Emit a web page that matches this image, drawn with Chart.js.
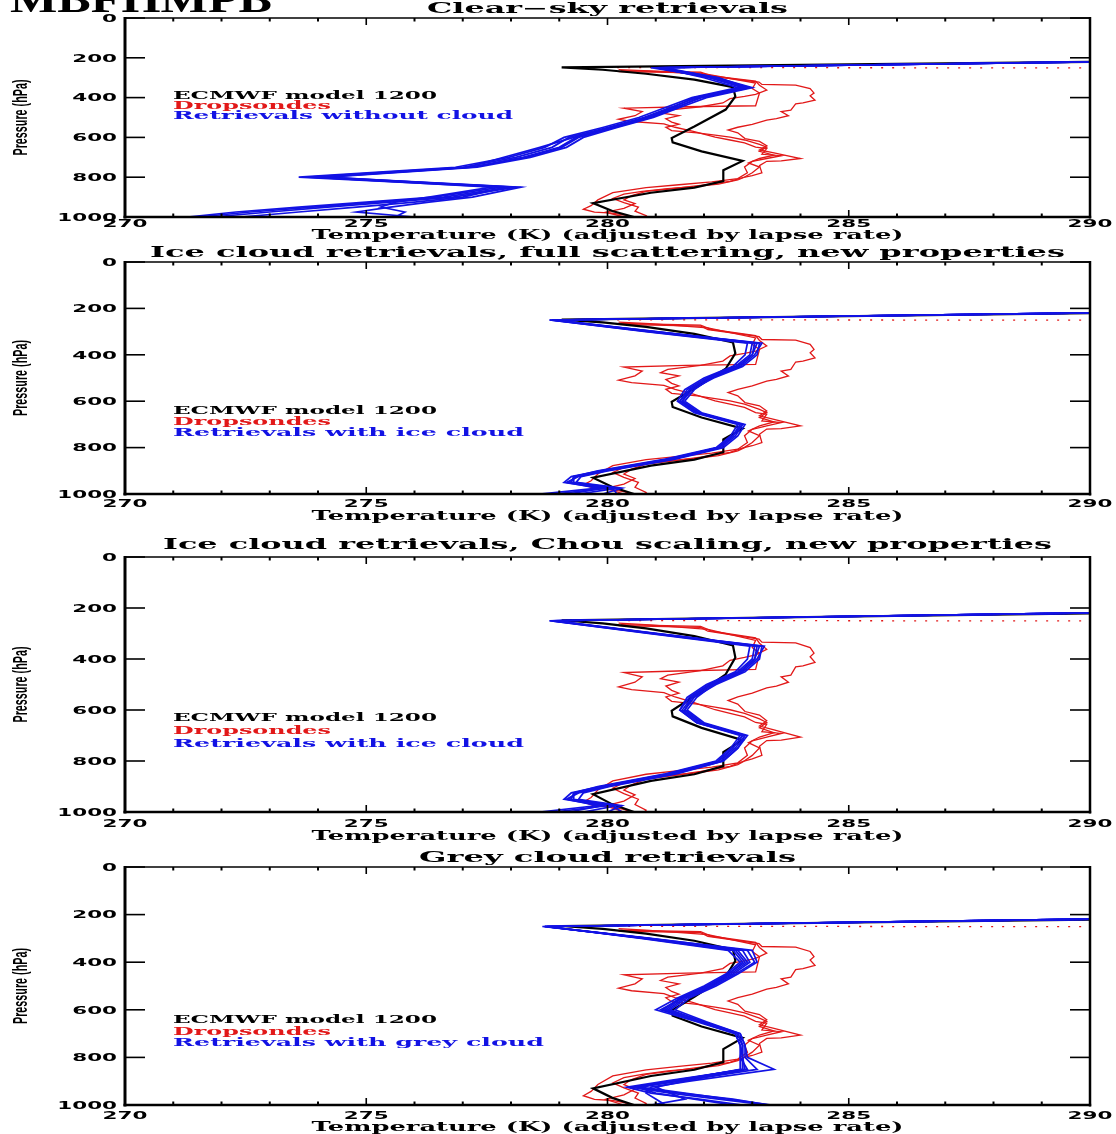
<!DOCTYPE html>
<html>
<head>
<meta charset="utf-8">
<script src="https://cdn.jsdelivr.net/npm/chart.js@4.4.1/dist/chart.umd.min.js"></script>
<style>
  html, body { margin: 0; padding: 0; background: #fff; }
  #wrap { position: relative; width: 1116px; height: 1134px; overflow: hidden; background: #fff; }
  #wrap canvas { position: absolute; left: 0; top: 0; width: 1116px; height: 1134px; }
</style>
</head>
<body>
<div id="wrap">
  <canvas id="panel0" width="1116" height="1134"></canvas>
  <canvas id="panel1" width="1116" height="1134"></canvas>
  <canvas id="panel2" width="1116" height="1134"></canvas>
  <canvas id="panel3" width="1116" height="1134"></canvas>
</div>
<script>
// ---- axes -----------------------------------------------------------------
const X_TICKS = [270, 275, 280, 285, 290];
const X_TICK_LABELS = ['270', '275', '280', '285', '290'];
const Y_TICKS = [0, 200, 400, 600, 800, 1000];
const Y_TICK_LABELS = ['0', '200', '400', '600', '800', '1000'];

// ---- ECMWF model profile (K, hPa) -------------------------------------------
const ECMWF_T = [291.0, 279.05, 279.9, 280.8, 281.8, 282.6, 282.65, 282.45, 281.8, 281.33, 281.35, 281.95, 282.8, 282.4, 282.4, 281.8, 280.9, 279.7, 280.1, 280.55];
const ECMWF_P = [218.5, 248, 260, 280, 310, 347, 394, 460, 545, 603, 625, 670, 718, 765, 820, 852, 878, 930, 970, 1000];

// ---- dropsonde profiles (K, hPa) ---------------------------------------------
const SONDE_A_T = [280.23, 281.93, 282.08, 283.14, 283.2, 283.9, 284.2, 284.28, 284.2, 284.3, 284.05, 283.9, 283.8, 283.6, 283.75, 283.5, 283.3, 283.0, 282.7, 282.5, 282.7, 282.85, 283.15, 283.3, 283.15, 283.45, 284.0, 283.6, 283.3, 283.15, 283.2, 283.0, 282.85, 282.7, 282.3, 281.8, 281.25, 280.72, 280.34, 280.11, 280.34, 280.64, 280.57, 280.8, 280.76];
const SONDE_A_P = [269, 276, 291, 322, 334, 337, 355, 377, 391, 413, 427, 431, 463, 470, 491, 506, 513, 534, 549, 563, 577, 606, 620, 642, 663, 678, 706, 718, 720, 742, 778, 792, 799, 814, 835, 847, 857, 871, 885, 907, 928, 950, 971, 993, 1000];

const SONDE_B_T = [280.23, 280.87, 282.08, 283.07, 283.0, 283.15, 283.07, 281.63, 280.34, 280.72, 280.57, 280.23, 280.5, 281.17, 281.4, 281.78, 282.23, 282.54, 282.84, 283.07, 283.3, 283.2, 283.6, 283.3, 283.0, 282.84, 282.9, 282.7, 282.16, 281.48, 280.8, 280.11, 279.8, 279.66, 279.5, 279.73, 280.1, 280.42, 280.34];
const SONDE_B_P = [259, 266, 284, 327, 355, 377, 441, 446, 453, 470, 491, 509, 520, 532, 549, 570, 599, 613, 627, 649, 656, 685, 692, 706, 721, 749, 778, 807, 824, 838, 852, 878, 914, 943, 961, 976, 981, 993, 1000];

const SONDE_C_T = [280.27, 281.93, 282.16, 283.07, 283.15, 283.3, 283.07, 282.84, 282.54, 282.39, 281.93, 281.25, 281.1, 281.48, 281.21, 281.33, 281.48, 281.21, 281.33, 281.86, 282.23, 282.54, 282.84, 283.15, 283.3, 283.15, 283.45, 283.15, 282.92, 283.15, 283.0, 282.84, 282.54, 281.93, 281.33, 280.8, 280.5, 280.34, 280.57, 280.34, 279.96, 280.34];
const SONDE_C_P = [265, 272, 291, 317, 338, 362, 384, 394, 405, 427, 446, 463, 477, 491, 506, 523, 534, 549, 566, 577, 589, 599, 613, 635, 649, 670, 689, 706, 728, 749, 778, 799, 821, 841, 858, 871, 893, 914, 933, 957, 976, 1000];

// sparse sonde samples above the tropopause
const SONDE_TOP_T = [280.2, 290.5];
const SONDE_TOP_P = [249, 251];

// ---- retrieved profiles on fixed pressure levels (hPa) ----------------------
const LEVELS = [215, 250, 300, 350, 400, 450, 500, 550, 600, 650, 700, 750, 800, 850, 900, 925, 950, 975, 1000];

const CLEAR_1 = [291.5, 281.0, 282.1, 282.85, 281.85, 281.3, 280.75, 280.0, 279.2, 278.85, 278.1, 277.0, 273.8, 278.0, 276.6, 275.2, 273.9, 272.6, 271.5];
const CLEAR_2 = [291.5, 280.9, 282.2, 282.95, 281.95, 281.4, 280.85, 280.1, 279.35, 279.0, 278.25, 277.15, 274.0, 278.1, 276.8, 275.5, 274.2, 273.0, 271.8];
const CLEAR_3 = [291.5, 281.1, 282.0, 282.7, 281.75, 281.2, 280.65, 279.9, 279.1, 278.7, 277.95, 276.85, 273.6, 277.8, 276.4, 275.0, 273.6, 272.3, 271.3];
const CLEAR_4 = [291.5, 281.2, 282.25, 283.0, 282.05, 281.5, 280.95, 280.2, 279.5, 279.15, 278.4, 277.3, 274.2, 277.9, 277.0, 276.0, 274.8, 273.6, 272.4];
const CLEAR_5 = [291.5, 281.0, 282.15, 282.8, 281.8, 281.35, 280.8, 280.05, 279.3, 278.6, 277.85, 277.1, 273.9, 277.6, 276.3, 275.6, 275.3, 275.8, 275.6];
const CLEAR_6 = [291.5, 281.1, 282.3, 282.9, 281.9, 281.45, 280.9, 280.15, 279.4, 279.05, 278.3, 277.2, 274.1, 278.2, 277.2, 276.3, 275.5, 274.8, 276.0];

const ICE_FULL_1 = [291.5, 278.85, 280.9, 283.05, 283.0, 282.7, 282.1, 281.7, 281.5, 281.85, 282.75, 282.6, 282.3, 281.3, 279.9, 279.35, 279.2, 280.0, 278.9];
const ICE_FULL_2 = [291.5, 278.8, 280.8, 282.9, 282.85, 282.6, 282.0, 281.6, 281.45, 281.8, 282.7, 282.55, 282.25, 281.2, 279.8, 279.3, 279.3, 280.2, 279.4];
const ICE_FULL_3 = [291.5, 278.9, 281.0, 283.15, 283.1, 282.8, 282.2, 281.75, 281.55, 281.9, 282.8, 282.65, 282.35, 281.35, 279.95, 279.4, 279.15, 279.8, 278.6];
const ICE_FULL_4 = [291.5, 278.85, 280.95, 283.2, 283.05, 282.75, 282.15, 281.8, 281.6, 281.95, 282.85, 282.7, 282.4, 281.4, 280.0, 279.45, 279.35, 280.3, 279.9];
const ICE_FULL_5 = [291.5, 278.8, 280.85, 283.0, 282.95, 282.65, 282.05, 281.65, 281.5, 281.85, 282.75, 282.6, 282.3, 281.25, 279.85, 279.25, 279.1, 279.9, 279.2];
const ICE_FULL_6 = [291.5, 278.9, 281.0, 283.1, 283.0, 282.7, 282.1, 281.7, 281.55, 281.9, 282.8, 282.6, 282.3, 281.3, 279.9, 279.3, 279.25, 280.1, 280.2];

const ICE_CHOU_1 = [291.5, 278.85, 280.95, 283.1, 283.05, 282.75, 282.15, 281.75, 281.55, 281.9, 282.8, 282.6, 282.3, 281.3, 279.9, 279.35, 279.2, 280.0, 278.9];
const ICE_CHOU_2 = [291.5, 278.8, 280.85, 282.95, 282.9, 282.65, 282.05, 281.65, 281.5, 281.85, 282.75, 282.55, 282.25, 281.2, 279.8, 279.3, 279.3, 280.2, 279.5];
const ICE_CHOU_3 = [291.5, 278.9, 281.05, 283.2, 283.15, 282.85, 282.25, 281.8, 281.6, 281.95, 282.85, 282.7, 282.4, 281.4, 280.0, 279.4, 279.15, 279.8, 278.6];
const ICE_CHOU_4 = [291.5, 278.85, 281.0, 283.25, 283.1, 282.8, 282.2, 281.85, 281.65, 282.0, 282.9, 282.7, 282.4, 281.45, 280.05, 279.5, 279.4, 280.3, 280.0];
const ICE_CHOU_5 = [291.5, 278.8, 280.9, 283.05, 283.0, 282.7, 282.1, 281.7, 281.5, 281.85, 282.8, 282.6, 282.3, 281.25, 279.85, 279.25, 279.1, 279.9, 279.2];
const ICE_CHOU_6 = [291.5, 278.9, 281.0, 283.15, 283.05, 282.75, 282.15, 281.75, 281.6, 281.95, 282.85, 282.65, 282.35, 281.35, 279.95, 279.3, 279.25, 280.1, 280.3];

const GREY_1 = [291.5, 278.7, 280.8, 282.7, 282.9, 282.55, 282.1, 281.55, 281.2, 281.95, 282.7, 282.8, 282.8, 282.8, 281.3, 280.5, 281.3, 282.3, 283.3];
const GREY_2 = [291.5, 278.75, 280.7, 282.5, 282.75, 282.45, 282.0, 281.45, 281.0, 281.85, 282.65, 282.75, 282.75, 282.75, 281.4, 280.7, 281.6, 282.5, 283.4];
const GREY_3 = [291.5, 278.7, 280.9, 282.9, 283.05, 282.65, 282.2, 281.65, 281.3, 282.0, 282.75, 282.85, 282.85, 283.1, 281.5, 280.6, 281.0, 281.8, 282.6];
const GREY_4 = [291.5, 278.65, 280.85, 283.0, 283.1, 282.7, 282.25, 281.7, 281.4, 282.05, 282.75, 282.85, 282.9, 283.45, 281.7, 280.9, 280.8, 281.0, 281.2];
const GREY_5 = [291.5, 278.7, 280.75, 282.6, 282.8, 282.5, 282.05, 281.5, 281.15, 281.9, 282.7, 282.8, 282.8, 282.85, 281.2, 280.4, 280.9, 281.9, 282.8];
const GREY_6 = [291.5, 278.75, 280.8, 282.8, 282.95, 282.6, 282.15, 281.6, 281.25, 281.95, 282.7, 282.8, 282.75, 282.9, 281.6, 281.0, 281.3, 281.6, 280.9];
const GREY_7 = [291.5, 278.7, 280.85, 282.65, 282.85, 282.5, 282.1, 281.55, 281.1, 281.9, 282.65, 282.75, 282.8, 282.8, 281.35, 280.55, 281.5, 282.6, 283.35];

const CLEAR_RUNS = [CLEAR_1, CLEAR_2, CLEAR_3, CLEAR_4, CLEAR_5, CLEAR_6];
const ICE_FULL_RUNS = [ICE_FULL_1, ICE_FULL_2, ICE_FULL_3, ICE_FULL_4, ICE_FULL_5, ICE_FULL_6];
const ICE_CHOU_RUNS = [ICE_CHOU_1, ICE_CHOU_2, ICE_CHOU_3, ICE_CHOU_4, ICE_CHOU_5, ICE_CHOU_6];
const GREY_RUNS = [GREY_1, GREY_2, GREY_3, GREY_4, GREY_5, GREY_6, GREY_7];

// ---- styling ------------------------------------------------------------------
const BLUE = 'rgb(18,18,228)';
const RED = 'rgb(226,24,24)';
const BLACK = '#000';
const PLOT_LEFT = 125, PLOT_RIGHT = 1090, CANVAS_W = 1116, CANVAS_H = 1134;

const SERIF = '"DejaVu Serif", "Liberation Serif", serif';
const SANS = '"DejaVu Sans", "Liberation Sans", sans-serif';

const PANELS = [
  { id: 'panel0', top: 18,  bottom: 217,  runs: CLEAR_RUNS,
    title: 'Clear\u2212sky retrievals', titleY: 9, titleW: 361,
    tickY: 224, axisTitleY: 236, legendY: [96, 106, 116],
    runLabel: 'Retrievals without cloud', runLabelW: 340 },
  { id: 'panel1', top: 262, bottom: 494,  runs: ICE_FULL_RUNS,
    title: 'Ice cloud retrievals, full scattering, new properties', titleY: 253, titleW: 915,
    tickY: 504, axisTitleY: 517, legendY: [411, 422, 433],
    runLabel: 'Retrievals with ice cloud', runLabelW: 351 },
  { id: 'panel2', top: 557, bottom: 812,  runs: ICE_CHOU_RUNS,
    title: 'Ice cloud retrievals, Chou scaling, new properties', titleY: 545, titleW: 889,
    tickY: 824, axisTitleY: 837, legendY: [718, 731, 744],
    runLabel: 'Retrievals with ice cloud', runLabelW: 351 },
  { id: 'panel3', top: 867, bottom: 1105, runs: GREY_RUNS,
    title: 'Grey cloud retrievals', titleY: 858, titleW: 377,
    tickY: 1116, axisTitleY: 1128, legendY: [1020, 1032, 1043],
    runLabel: 'Retrievals with grey cloud', runLabelW: 371 }
];

function toPoints(ts, ps) { return ts.map((t, i) => ({ x: t, y: ps[i] })); }

// text squeezed or stretched horizontally to a given width (or by a factor)
function drawText(ctx, str, x, y, o) {
  ctx.save();
  ctx.font = o.font;
  ctx.fillStyle = o.color || BLACK;
  ctx.textBaseline = o.baseline || 'middle';
  ctx.textAlign = o.align || 'left';
  const w = ctx.measureText(str).width;
  const sx = o.width ? o.width / w : (o.sx || 1);
  ctx.translate(x, y);
  if (o.rotate) ctx.rotate(o.rotate);
  ctx.scale(sx, 1);
  ctx.fillText(str, 0, 0);
  ctx.restore();
}

function framePlugin(panel, index) {
  return {
    id: 'frame' + index,
    afterDraw(chart) {
      const ctx = chart.ctx;
      const { left, right, top, bottom } = chart.chartArea;
      const xs = chart.scales.x, ys = chart.scales.y;
      ctx.save();
      ctx.strokeStyle = BLACK;
      ctx.lineCap = 'butt';
      // frame
      ctx.lineWidth = 3;   ctx.beginPath(); ctx.moveTo(left, top - 1); ctx.lineTo(left, bottom + 1.5); ctx.stroke();
      ctx.lineWidth = 2.5; ctx.beginPath(); ctx.moveTo(right, top - 1); ctx.lineTo(right, bottom + 1.5); ctx.stroke();
      ctx.lineWidth = 2.5; ctx.beginPath(); ctx.moveTo(left - 1.5, bottom); ctx.lineTo(right + 1.2, bottom); ctx.stroke();
      ctx.lineWidth = 1.5; ctx.beginPath(); ctx.moveTo(left, top); ctx.lineTo(right, top); ctx.stroke();
      // pressure ticks, inward on both sides
      ctx.lineWidth = 1.6;
      Y_TICKS.forEach(v => {
        const y = ys.getPixelForValue(v);
        ctx.beginPath(); ctx.moveTo(left, y); ctx.lineTo(left + 20, y); ctx.stroke();
        ctx.beginPath(); ctx.moveTo(right, y); ctx.lineTo(right - 20, y); ctx.stroke();
      });
      // temperature ticks, inward at bottom and top
      for (let v = xs.min; v <= xs.max; v += 1) {
        const major = X_TICKS.includes(v);
        const len = major ? 7 : 3.5;
        const x = xs.getPixelForValue(v);
        ctx.lineWidth = major ? 1.6 : 2;
        ctx.beginPath(); ctx.moveTo(x, bottom); ctx.lineTo(x, bottom - len); ctx.stroke();
        ctx.beginPath(); ctx.moveTo(x, top); ctx.lineTo(x, top + len); ctx.stroke();
      }
      ctx.restore();

      // tick labels
      const tickFont = 'bold 11px ' + SANS;
      X_TICKS.forEach((v, i) => drawText(ctx, X_TICK_LABELS[i], xs.getPixelForValue(v), panel.tickY,
        { font: tickFont, align: 'center', sx: 1.95 }));
      Y_TICKS.forEach((v, i) => drawText(ctx, Y_TICK_LABELS[i], left - 8, ys.getPixelForValue(v) + 1,
        { font: tickFont, align: 'right', sx: 1.95 }));

      // axis titles
      const midX = (left + right) / 2;
      drawText(ctx, 'Temperature (K) (adjusted by lapse rate)', midX, panel.axisTitleY,
        { font: 'bold 12px ' + SERIF, align: 'center', width: 592 });
      drawText(ctx, 'Pressure (hPa)', 21, (top + bottom) / 2,
        { font: '600 20px "Liberation Sans Narrow", "Liberation Sans", sans-serif', align: 'center', width: 76, rotate: -Math.PI / 2 });

      // panel title
      drawText(ctx, panel.title, midX, panel.titleY,
        { font: 'bold 14px ' + SERIF, align: 'center', width: panel.titleW });

      // legend
      const lx = 173, lf = 'bold 11px ' + SERIF;
      drawText(ctx, 'ECMWF model 1200', lx, panel.legendY[0], { font: lf, color: BLACK, width: 264 });
      drawText(ctx, 'Dropsondes', lx, panel.legendY[1], { font: lf, color: RED, width: 158 });
      drawText(ctx, panel.runLabel, lx, panel.legendY[2], { font: lf, color: BLUE, width: panel.runLabelW });

      if (index === 0) {
        drawText(ctx, 'MBFHMPB', 10, 12,
          { font: 'bold 38px "Liberation Serif", serif', baseline: 'alphabetic', width: 262 });
      }
    }
  };
}

PANELS.forEach((panel, index) => {
  const datasets = [];
  panel.runs.forEach(run => datasets.push({
    data: toPoints(run, LEVELS), borderColor: BLUE, borderWidth: 1.7
  }));
  datasets.push({ data: toPoints(ECMWF_T, ECMWF_P), borderColor: BLACK, borderWidth: 2.2 });
  [[SONDE_A_T, SONDE_A_P], [SONDE_B_T, SONDE_B_P], [SONDE_C_T, SONDE_C_P]].forEach(([t, p]) =>
    datasets.push({ data: toPoints(t, p), borderColor: RED, borderWidth: 1.3 }));
  datasets.push({ data: toPoints(SONDE_TOP_T, SONDE_TOP_P), borderColor: RED, borderWidth: 1.3, borderDash: [2, 9] });
  datasets.forEach(d => Object.assign(d, { showLine: true, pointRadius: 0, tension: 0, fill: false, clip: 0 }));

  new Chart(document.getElementById(panel.id), {
    type: 'scatter',
    data: { datasets },
    options: {
      responsive: false,
      animation: false,
      devicePixelRatio: 1,
      layout: { padding: { left: PLOT_LEFT, right: CANVAS_W - PLOT_RIGHT, top: panel.top, bottom: CANVAS_H - panel.bottom } },
      scales: {
        x: { type: 'linear', min: 270, max: 290, display: false },
        y: { type: 'linear', min: 0, max: 1000, reverse: true, display: false }
      },
      plugins: { legend: { display: false }, tooltip: { enabled: false } }
    },
    plugins: [framePlugin(panel, index)]
  });
});
</script>
</body>
</html>
